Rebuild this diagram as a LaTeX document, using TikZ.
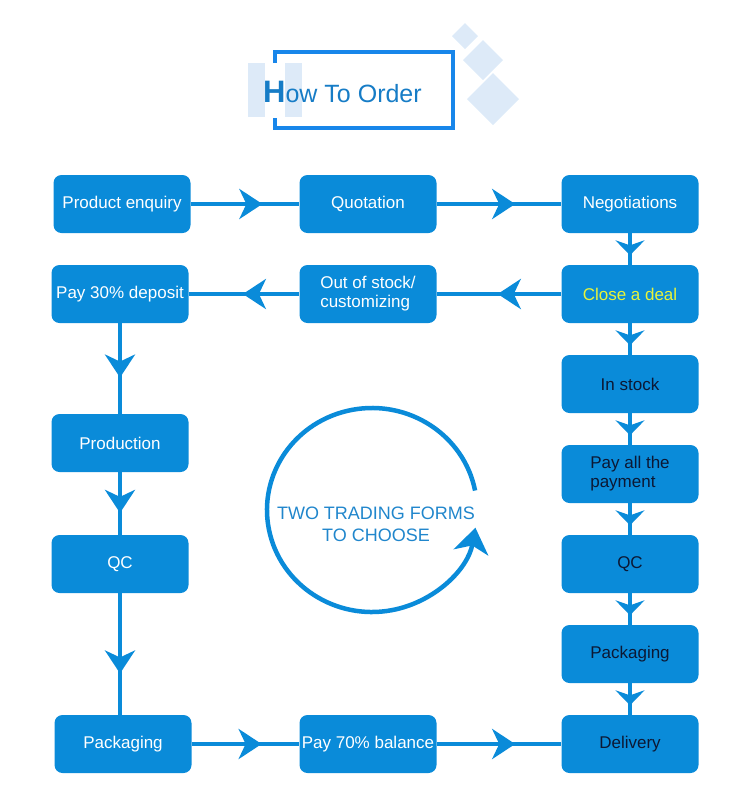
\documentclass[tikz,border=0pt]{standalone}
\usepackage{fontspec}
\setmainfont{Liberation Sans}
\usetikzlibrary{arrows.meta,decorations.markings,calc}

\definecolor{boxblue}{RGB}{10,139,217}
\definecolor{frameblue}{RGB}{24,134,234}
\definecolor{paleblue}{RGB}{221,234,248}
\definecolor{titleblue}{RGB}{22,124,198}
\definecolor{ringtext}{RGB}{32,134,204}
\definecolor{darktext}{RGB}{12,24,52}
\definecolor{dealyellow}{RGB}{232,244,58}

\tikzset{
  stepbox/.style={fill=boxblue, rounded corners=8pt, minimum width=137pt,
    minimum height=58pt, inner sep=2pt, text=white, align=center,
    font=\fontsize{17}{19}\selectfont},
  bigtip/.tip={Stealth[length=23pt,width=30pt,inset=7pt]},
  smalltip/.tip={Stealth[length=15pt,width=29pt,inset=5pt]},
  flow/.style={draw=boxblue, line width=4pt, postaction={decorate},
    decoration={markings, mark=at position #1 with {\arrow{bigtip}}}},
  flow/.default=0.6,
  shortflow/.style={draw=boxblue, line width=4pt, postaction={decorate},
    decoration={markings, mark=at position #1 with {\arrow{smalltip}}}},
  shortflow/.default=0.7
}

\begin{document}
\begin{tikzpicture}[x=1pt,y=-1pt]
\useasboundingbox (0,0) rectangle (750,804);

% Title
\fill[paleblue] (248,63) rectangle (265,117);
\fill[paleblue] (285,63) rectangle (302,117);
\foreach \cx/\cy/\r in {465/36/13, 483/60/20, 493/99/26}
  \fill[paleblue] (\cx,\cy-\r) -- (\cx+\r,\cy) -- (\cx,\cy+\r) -- (\cx-\r,\cy) -- cycle;
\draw[frameblue, line width=4pt] (275,63) -- (275,52) -- (453,52) -- (453,128) -- (275,128) -- (275,118);
\node[anchor=base west, inner sep=0pt, text=titleblue] (title) at (263,102)
  {{\fontsize{31}{31}\selectfont\bfseries H}{\fontsize{25}{25}\selectfont ow To Order}};

% Steps
\node[stepbox] (enq) at (122,204) {Product enquiry};
\node[stepbox] (quo) at (368,204) {Quotation};
\node[stepbox] (neg) at (630,204) {Negotiations};
\node[stepbox, text=dealyellow] (deal) at (630,294) {Close a deal};
\node[stepbox, align=left] (oos) at (368,294) {Out of stock/\\customizing};
\node[stepbox] (dep) at (120,294) {Pay 30\% deposit};

% In stock way
\node[stepbox, text=darktext] (instock) at (630,384) {In stock};
\node[stepbox, text=darktext, align=left] (payall) at (630,474) {Pay all the\\payment};
\node[stepbox, text=darktext] (qcr) at (630,564) {QC};
\node[stepbox, text=darktext] (packr) at (630,654) {Packaging};
\node[stepbox, text=darktext] (deliv) at (630,744) {Delivery};

% Out of stock way
\node[stepbox] (prod) at (120,443) {Production};
\node[stepbox] (qcl) at (120,564) {QC};
\node[stepbox] (packl) at (123,744) {Packaging};
\node[stepbox] (bal) at (368,744) {Pay 70\% balance};

% Connectors
\draw[flow=0.66] (enq) -- (quo);
\draw[flow=0.63] (quo) -- (neg);
\draw[flow=0.51] (deal) -- (oos);
\draw[flow=0.51] (oos) -- (dep);
\draw[flow=0.6] (dep) -- (prod);
\draw[flow=0.65] (prod) -- (qcl);
\draw[flow=0.66] (qcl.south) -- (qcl.south |- packl.north);
\draw[flow=0.65] (packl) -- (bal);
\draw[flow=0.63] (bal) -- (deliv);

\draw[shortflow] (neg) -- (deal);
\draw[shortflow] (deal) -- (instock);
\draw[shortflow] (instock) -- (payall);
\draw[shortflow] (payall) -- (qcr);
\draw[shortflow] (qcr) -- (packr);
\draw[shortflow] (packr) -- (deliv);

% Two ways
\coordinate (ring) at (372,510);
\draw[boxblue, line width=4.5pt, -{Stealth[length=25pt,width=35pt,inset=7pt]}]
  ($(ring)+(-11:105 and 102)$) arc[start angle=-11, end angle=-350, x radius=105, y radius=102];
\node[text=ringtext, align=center, font=\fontsize{18}{22}\selectfont] (forms) at (376,524)
  {TWO TRADING FORMS\\TO CHOOSE};

\end{tikzpicture}
\end{document}
